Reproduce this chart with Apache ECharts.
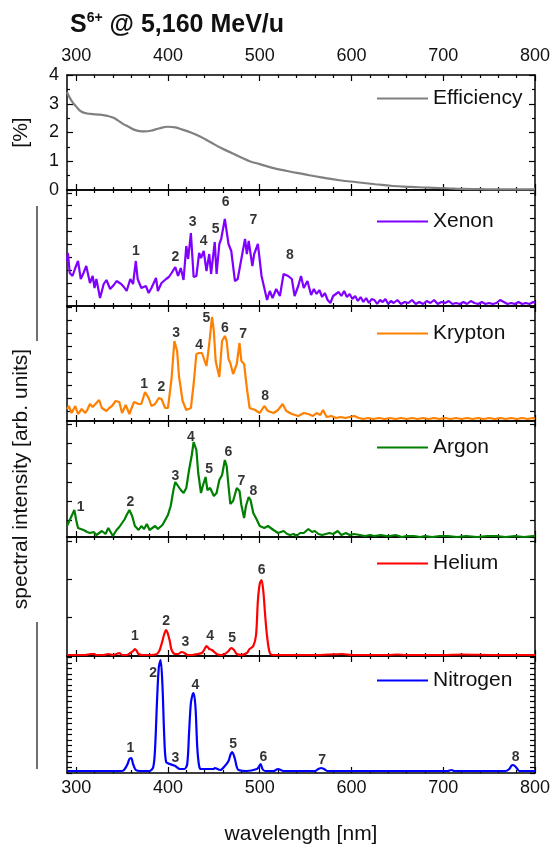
<!DOCTYPE html>
<html><head><meta charset="utf-8">
<script src="https://cdn.jsdelivr.net/npm/echarts@6/dist/echarts.min.js"></script>
<style>html,body{margin:0;padding:0;background:#fff}#c{width:558px;height:853px}</style>
</head><body><div id="c"></div><script>
// ---------- data ----------
const xTickLabels = [300, 400, 500, 600, 700, 800];
const effTickLabels = [0, 1, 2, 3, 4];

const effX = [290,295,300,306,312,318,326,334,340,345,351,357,363,369,375,381,390,400,408,415,425,435,446,458,470,480,489,500,513,530,548,567,587,606,626,645,665,684,704,720,740,762,780,800];
const effY = [3.4,3.1,2.9,2.72,2.66,2.64,2.62,2.58,2.52,2.43,2.3,2.2,2.1,2.05,2.04,2.06,2.14,2.2,2.18,2.11,2.0,1.86,1.67,1.46,1.28,1.13,1.0,0.9,0.78,0.66,0.55,0.44,0.34,0.27,0.2,0.14,0.11,0.08,0.06,0.04,0.03,0.02,0.02,0.02];

const xeX = [290,291,293,296,299,302,305,308,311,315,318,320,322,326,330,333,337,341,344,349,352,355,359,362,365,367,371,376,379,382,387,389,393,398,401,404,408,411,414,417,420,422,425,428,431,434,436,439,442,445,447,451,453,456,458,462,466,469,473,476,480,484,486,488,492,494,498,502,505,508,511,514,518,522,526,531,535,538,542,545,548,552,556,559,562,565,568,571,574,577,580,583,586,589,592,595,598,601,604,607,610,613,616,619,622,625,628,631,634,637,640,643,646,650,654,658,662,666,670,674,678,682,686,690,694,698,702,706,710,714,718,722,726,730,734,738,742,746,750,754,758,762,766,770,774,778,782,786,790,794,798,800];
const xeY = [45,53,33,30,38,45,27,33,40,23,30,18,27,8,22,26,17,21,25,22,19,15,27,22,45,27,18,20,13,18,28,15,23,27,29,33,39,30,38,26,60,47,73,29,30,53,48,55,35,52,32,64,32,62,67,87,62,55,25,27,47,67,52,65,40,52,62,30,18,6,15,8,17,10,32,30,27,10,20,30,18,25,11,17,12,16,9,13,6,3,10,12,14,10,15,9,12,7,10,5,9,4,8,3,7,6,2,6,4,7,2,5,3,6,2,4,3,6,2,4,2,5,3,6,2,4,3,5,2,3,2,4,2,5,3,2,4,2,3,2,3,6,4,2,3,2,4,2,3,2,4,3];

const krX = [290,292,295,299,302,306,310,312,315,318,321,325,328,333,336,339,343,347,350,354,358,360,363,368,371,375,379,382,386,390,393,397,400,404,407,410,412,416,420,425,428,431,434,437,439,442,445,448,450,452,456,459,462,464,466,468,471,475,478,480,483,486,489,495,500,505,509,515,520,525,529,535,542,548,553,558,562,566,569,573,578,583,588,593,598,603,608,613,618,624,630,636,642,648,654,660,666,672,678,684,690,696,702,708,714,720,726,732,738,744,750,756,762,768,774,780,786,792,798,800];
const krY = [12,15,8,15,7,12,8,11,17,14,17,21,13,10,13,15,20,19,8,16,7,12,19,17,17,29,23,15,17,23,22,13,13,43,80,70,45,20,11,13,37,67,68,68,67,55,77,104,90,60,44,80,85,80,62,58,47,57,78,60,57,33,13,11,8,15,10,8,11,17,10,7,5,8,7,5,8,6,11,4,5,3,4,3,4,5,3,2,3,2,3,2,3,2,3,2,3,2,3,2,3,2,3,2,3,2,3,2,3,2,3,2,3,2,3,2,3,2,3,2];

const arX = [290,292,295,298,300,302,305,308,312,315,319,322,325,328,332,335,340,344,347,350,353,355,358,361,364,368,371,374,377,380,383,386,389,391,394,397,400,403,406,408,411,414,417,420,423,426,428,431,433,436,438,441,443,446,450,453,456,459,462,464,466,468,471,475,478,480,483,485,488,490,493,497,500,505,509,515,520,526,530,533,537,540,544,548,553,557,560,564,568,572,576,580,585,589,594,598,603,609,615,620,625,632,638,642,648,655,660,668,675,680,688,696,705,715,725,737,748,758,768,778,788,798,800];
const arY = [11,15,21,27,17,9,8,7,5,4,5,2,4,6,3,9,1,7,10,14,18,22,27,21,11,7,11,8,13,7,9,11,8,9,12,17,22,31,47,55,51,47,44,49,67,82,95,87,64,44,51,60,47,49,41,44,57,62,77,71,51,33,36,49,46,32,19,31,40,37,24,17,11,9,11,7,4,6,3,2,3,1,4,4,8,5,6,3,2,3,4,3,6,2,4,2,3,2,1,2,1,2,1,1,2,0,1,1,0,1,0,1,1,0,1,0,1,1,0,1,0,1,1];

const heX = [290,300,310,316,319,322,330,335,340,344,347,350,355,359,362,364,366,368,372,380,388,391,394,396,398,400,402,404,408,411,415,418,421,426,432,437,440,442,445,448,453,458,462,466,469,472,475,480,486,489,493,496,498,500,502,504,506,508,511,515,530,560,590,600,640,650,660,700,720,760,780,800];
const heY = [1,1,1,2,2,1,1,2,1,2,3,1,1,3,5,7,5,2,1,1,2,6,15,22,26,22,15,6,2,2,4,3,1,1,2,3,7,10,7,6,2,1,2,5,8,6,2,1,3,7,10,21,55,72,76,64,40,20,3,1,1,1,2,1,1,1.5,1,1,1.5,1,1,1];

const niX = [290,320,340,350,353,356,358,360,362,365,370,380,384,386,388,390,392,394,396,398,402,408,413,418,421,423,425,427,428,430,432,434,436,450,451,457,462,466,468,470,473,475,477,486,497,499,501,503,506,515,520,526,545,560,564,567,570,574,600,650,705,709,712,715,740,768,772,774,776,778,780,783,790,800];
const niY = [2,2,2,2,4,9,14,15,9,3,2,2,6,25,70,105,113,88,36,11,9,7,4,4,9,40,70,79,80,66,25,7,4,4,5,3,7,12,18,21,14,6,3,2,4,6,9,4,2,2,4,2,2,2,4,5,4,2,2,2,2,3,2,2,2,2,4,7,8,7,5,2,2,2];

// peak labels: wavelength, label-centre height, text
const xePeakX = [365,408,427,439,452,463,493,533];
const xePeakY = [55,49,84,65,77,104,86,51];
const krPeakX = [374,393,409,434,442,462,482,506];
const krPeakY = [37,34,88,76,103,93,87,25];
const arPeakX = [305,359,408,425,445,466,480,493];
const arPeakY = [30,35,61,100,68,85,56,46];
const hePeakX = [364,398,419,446,470,502];
const hePeakY = [20,35,14,20,18,86];
const niPeakX = [359,384,408,430,471,504,568,779];
const niPeakY = [25,100,15,88,29,16,13,16];
const peakNames = ['1','2','3','4','5','6','7','8'];

const seriesNames = ['Efficiency','Xenon','Krypton','Argon','Helium','Nitrogen'];
const seriesColors = ['#808080','#8000ff','#ff8000','#008000','#ff0000','#0000ff'];

// ---------- layout ----------
const FONT = 'Liberation Sans, Arial, sans-serif';
const panels = [
  {top: 75,  h: 115, max: 4,   step: 1,    off: 0},
  {top: 190, h: 116, max: 116, step: 12.9, off: 10},
  {top: 306, h: 115, max: 115, step: 13,   off: 9.8},
  {top: 421, h: 116, max: 116, step: 19.3, off: 16.3},
  {top: 537, h: 119, max: 119, step: 38.3, off: 0},
  {top: 656, h: 117, max: 117, step: 5.5,  off: 0}
];
const legendY = [99, 222, 334, 448, 564, 681];

const minorX = [];
for (let v = 300; v <= 800; v += 20) if (v % 100 !== 0) minorX.push(v);

const grids = [], xAxes = [], yAxes = [], series = [], legends = [];
const lineCol = '#000';

panels.forEach((p, i) => {
  grids.push({left: 67, width: 468, top: p.top, height: p.h});
  const base = (pos, major) => ({
    type: 'value', gridIndex: i, min: 290, max: 800, position: pos,
    axisLine: {show: major, onZero: false, lineStyle: {color: lineCol, width: 1.5}},
    axisTick: {show: true, inside: true, length: major ? 6 : 3,
      customValues: major ? xTickLabels : minorX, lineStyle: {color: lineCol, width: 1.2}},
    axisLabel: {show: major && ((pos === 'top' && i === 0) || (pos === 'bottom' && i === 5)),
      customValues: xTickLabels, fontSize: 18, color: '#111', fontFamily: FONT,
      margin: pos === 'top' ? 10 : 6},
    splitLine: {show: false}
  });
  const xb = base('bottom', true);
  if (i === 5) {
    xb.name = 'wavelength [nm]'; xb.nameLocation = 'middle'; xb.nameGap = 51;
    xb.nameTextStyle = {fontSize: 21, color: '#111', fontFamily: FONT};
  }
  xAxes.push(xb, base('bottom', false), base('top', true), base('top', false));

  const ticks = [];
  if (p.off > 0) for (let v = p.off; v < p.max; v += p.step) ticks.push(v);
  const yb = (pos) => {
    const o = {
      type: 'value', gridIndex: i, min: 0, max: p.max, interval: p.step, position: pos,
      axisLine: {show: true, lineStyle: {color: lineCol, width: 1.5}},
      axisTick: {show: true, inside: true, length: i === 0 ? 6 : 5, lineStyle: {color: lineCol, width: 1.2}},
      axisLabel: {show: i === 0 && pos === 'left', fontSize: 18, color: '#111', fontFamily: FONT, margin: 8},
      splitLine: {show: false}
    };
    if (ticks.length) o.axisTick.customValues = ticks;
    if (i === 0) o.minorTick = {show: true, splitNumber: 2, length: 3, lineStyle: {color: lineCol, width: 1.2}};
    return o;
  };
  const yl = yb('left');
  if (i === 0) {
    yl.name = '[%]'; yl.nameLocation = 'middle'; yl.nameGap = 35; yl.nameRotate = 90;
    yl.nameTextStyle = {fontSize: 21, color: '#111', fontFamily: FONT};
  }
  if (i === 3) {
    yl.name = 'spectral intensity [arb. units]'; yl.nameLocation = 'middle'; yl.nameGap = 35; yl.nameRotate = 90;
    yl.nameTextStyle = {fontSize: 21, color: '#111', fontFamily: FONT};
  }
  yAxes.push(yl, yb('right'));

  legends.push({
    data: [{name: seriesNames[i], icon: 'rect'}], left: 377, top: legendY[i] - 11, padding: 0,
    itemWidth: 51, itemHeight: 2.2, selectedMode: false,
    textStyle: {fontSize: 21, color: '#111', fontFamily: FONT}
  });
});

const allX = [effX, xeX, krX, arX, heX, niX];
const allY = [effY, xeY, krY, arY, heY, niY];
allX.forEach((xs, i) => {
  series.push({
    name: seriesNames[i], type: 'line', xAxisIndex: 4 * i, yAxisIndex: 2 * i,
    data: xs.map((x, k) => [x, allY[i][k]]), symbol: 'none', showSymbol: false,
    smooth: i === 0 ? 0.5 : (i >= 4 ? 0.3 : false),
    lineStyle: {color: seriesColors[i], width: 2.2}, itemStyle: {color: seriesColors[i]},
    animation: false, clip: true, z: 3
  });
});

const peaksX = [null, xePeakX, krPeakX, arPeakX, hePeakX, niPeakX];
const peaksY = [null, xePeakY, krPeakY, arPeakY, hePeakY, niPeakY];
for (let i = 1; i < 6; i++) {
  series.push({
    name: 'peaks' + i, type: 'scatter', xAxisIndex: 4 * i, yAxisIndex: 2 * i,
    data: peaksX[i].map((x, k) => [x, peaksY[i][k], peakNames[k]]),
    symbolSize: 1, itemStyle: {color: 'rgba(0,0,0,0)'}, silent: true, animation: false,
    label: {show: true, position: 'inside', formatter: (p) => p.value[2],
      fontSize: 14, fontWeight: 'bold', color: '#000', fontFamily: FONT},
    z: 5
  });
}

const chart = echarts.init(document.getElementById('c'), null, {renderer: 'canvas'});
chart.setOption({
  animation: false,
  backgroundColor: '#fff',
  title: {
    text: '{a|S}{b|6+}{a| @ 5,160 MeV/u}', left: 65, top: 6,
    textStyle: {rich: {
      a: {fontSize: 25, fontWeight: 'bold', color: '#111', fontFamily: FONT, lineHeight: 28},
      b: {fontSize: 14, fontWeight: 'bold', color: '#111', fontFamily: FONT, verticalAlign: 'top', lineHeight: 14}
    }}
  },
  legend: legends,
  grid: grids, xAxis: xAxes, yAxis: yAxes, series: series,
  graphic: [
    {type: 'line', shape: {x1: 37, y1: 206, x2: 37, y2: 341}, style: {stroke: '#111', lineWidth: 1.2}},
    {type: 'line', shape: {x1: 37, y1: 622, x2: 37, y2: 769}, style: {stroke: '#111', lineWidth: 1.2}}
  ]
});
</script></body></html>
